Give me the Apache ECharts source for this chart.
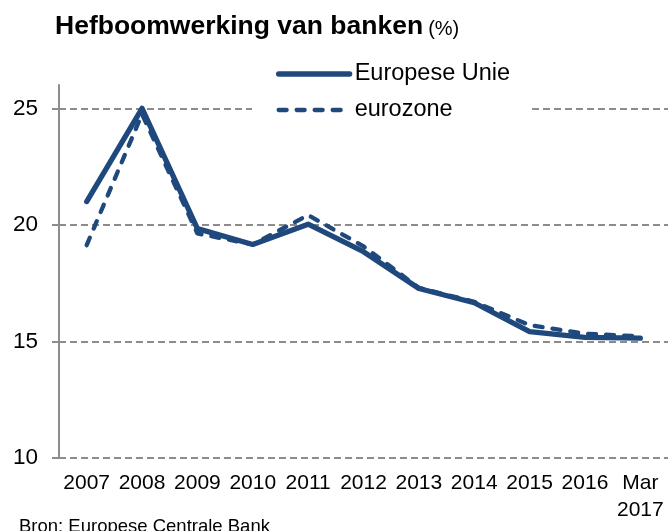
<!DOCTYPE html>
<html lang="nl">
<head>
    <meta charset="UTF-8">
    <title>Hefboomwerking van banken</title>
    <script src="https://cdn.jsdelivr.net/npm/echarts@6/dist/echarts.min.js"></script>
    <style>
        html, body { margin: 0; padding: 0; background: #fff; }
    </style>
</head>
<body>
    <div id="main" style="width: 668px;height:531px;"></div>
    <script type="text/javascript">
        var years = ['2007', '2008', '2009', '2010', '2011', '2012', '2013', '2014', '2015', '2016', 'Mar\n2017'];
        var eu = [21.0, 25.0, 19.84, 19.16, 20.03, 18.85, 17.27, 16.66, 15.42, 15.17, 15.14];
        var eurozone = [19.13, 24.75, 19.63, 19.16, 20.42, 19.08, 17.3, 16.7, 15.7, 15.33, 15.22];
        var yTicks = [10, 15, 20, 25];

        var blue = '#1f497d';
        var grey = '#8c8c8c';
        var font = '"Liberation Sans", Arial, sans-serif';

        var myChart = echarts.init(document.getElementById('main'));
        var option = {
            animation: false,
            textStyle: { fontFamily: font },
            title: [
                {
                    text: '{b|Hefboomwerking van banken} {n|(%)}',
                    left: 55,
                    top: 13,
                    padding: 0,
                    textStyle: {
                        rich: {
                            b: { fontSize: 26.5, fontWeight: 'bold', color: '#000', fontFamily: font, verticalAlign: 'bottom' },
                            n: { fontSize: 20, fontWeight: 'normal', color: '#000', fontFamily: font, verticalAlign: 'bottom', padding: [0, 0, 1, 0] }
                        }
                    }
                },
                {
                    text: 'Bron: Europese Centrale Bank',
                    left: 19,
                    top: 517,
                    padding: 0,
                    textStyle: { fontSize: 18.5, fontWeight: 'normal', color: '#000', fontFamily: font }
                }
            ],
            legend: {
                orient: 'vertical',
                left: 252,
                top: 56,
                itemWidth: 71,
                itemHeight: 14,
                itemGap: 12,
                backgroundColor: '#fff',
                padding: [6, 22, 6, 24],
                itemStyle: { color: 'rgba(0,0,0,0)', borderWidth: 0, opacity: 0 },
                textStyle: { fontSize: 23.5, lineHeight: 24, color: '#000', fontFamily: font },
                data: [
                    { name: 'Europese Unie', lineStyle: { width: 5.3, cap: 'round' } },
                    { name: 'eurozone', lineStyle: { width: 4.3, type: [8, 10], cap: 'round' } }
                ]
            },
            grid: {
                left: 59,
                right: 0,
                top: 85,
                bottom: 73
            },
            xAxis: {
                type: 'category',
                data: years,
                boundaryGap: true,
                axisLine: { show: false },
                axisTick: { show: false },
                axisLabel: {
                    interval: 0,
                    color: '#000',
                    fontSize: 21,
                    margin: 12,
                    lineHeight: 27,
                    fontFamily: font
                }
            },
            yAxis: {
                type: 'value',
                min: 10,
                max: 26,
                interval: 5,
                axisLine: { show: true, lineStyle: { color: grey, width: 2 } },
                axisTick: { show: true, length: 7, customValues: yTicks, lineStyle: { color: grey, width: 2 } },
                axisLabel: {
                    color: '#000',
                    fontSize: 22.5,
                    margin: 21,
                    fontFamily: font,
                    customValues: yTicks
                },
                splitLine: {
                    show: true,
                    lineStyle: {
                        color: [grey, grey, grey, grey, 'rgba(0,0,0,0)'],
                        type: [7, 4],
                        width: 2
                    }
                }
            },
            series: [
                {
                    name: 'Europese Unie',
                    type: 'line',
                    data: eu,
                    symbol: 'none',
                    z: 3,
                    itemStyle: { color: blue },
                    lineStyle: { color: blue, width: 5.3, join: 'round', cap: 'round' }
                },
                {
                    name: 'eurozone',
                    type: 'line',
                    data: eurozone,
                    symbol: 'none',
                    z: 4,
                    itemStyle: { color: blue },
                    lineStyle: { color: blue, width: 4.3, type: [8, 10], cap: 'round' }
                }
            ]
        };
        myChart.setOption(option);
    </script>
</body>
</html>
